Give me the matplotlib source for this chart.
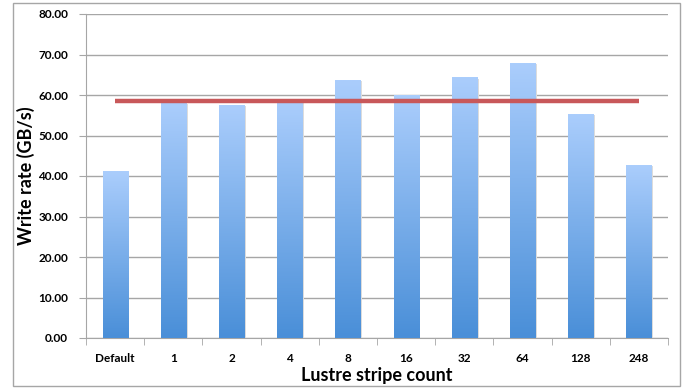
import numpy as np
import matplotlib
matplotlib.use('Agg')
import matplotlib.pyplot as plt
from matplotlib.colors import LinearSegmentedColormap
from matplotlib.patches import Rectangle

plt.rcParams['font.family'] = ['Lato', 'DejaVu Sans']

categorias = ['Default', '1', '2', '4', '8', '16', '32', '64', '128', '248']
taxa = [41.0, 58.0, 57.5, 58.5, 63.7, 60.0, 64.2, 67.9, 55.3, 42.7]
referencia = [58.6] * len(categorias)
yticks = [0, 10, 20, 30, 40, 50, 60, 70, 80]

fig = plt.figure(figsize=(6.85, 3.9), dpi=100)
ax = fig.add_axes([86/685, 52/390, 582/685, 324/390])

# moldura cinza em volta do grafico
fig.patches.append(Rectangle((13/685, 4/390), 667/685, 383/390, transform=fig.transFigure,
                             fill=False, edgecolor='#a6a6a6', linewidth=1.0))

grad = LinearSegmentedColormap.from_list('azul', ['#4a8fd8', '#aacdfc'])
x = np.arange(len(categorias))
w = 0.43
bars = ax.bar(x, taxa, width=w, color='none', zorder=3)
for xi, rect in zip(x, bars):
    h = rect.get_height()
    # sombra leve a direita
    ax.add_patch(Rectangle((xi - w/2 + 0.03, 0), w, h - 0.3, facecolor='#dcdcdc',
                           edgecolor='none', zorder=2))
    img = np.linspace(0, 1, 100).reshape(-1, 1)
    ax.imshow(img, cmap=grad, origin='lower', aspect='auto',
              extent=(xi - w/2, xi + w/2, 0, h), zorder=3)

ax.plot(x, referencia, color='#c8585a', linewidth=3.2, zorder=4, solid_capstyle='butt')

ax.set_xlim(-0.5, len(categorias) - 0.5)
ax.set_ylim(0, 80)
ax.set_yticks(yticks)
ax.set_yticklabels(['%.2f' % v for v in yticks], fontsize=8.5, fontweight='bold')
ax.yaxis.grid(True, color='#a6a6a6', linewidth=1.0, zorder=0)
ax.set_axisbelow(True)

ax.set_xticks(x)
ax.set_xticklabels(categorias, fontsize=8.5, fontweight='bold')
ax.set_xticks(np.arange(-0.5, len(categorias)), minor=True)
ax.tick_params(axis='x', which='major', length=0, pad=11)
ax.tick_params(axis='x', which='minor', length=5, color='#a6a6a6', direction='out')
ax.tick_params(axis='y', length=5, color='#a6a6a6', pad=8)

for s in ['top', 'right']:
    ax.spines[s].set_visible(False)
for s in ['left', 'bottom']:
    ax.spines[s].set_color('#a6a6a6')

ax.set_ylabel('Write rate (GB/s)', fontsize=13, fontweight='bold')
ax.yaxis.set_label_coords(-0.087, 0.5)
ax.set_xlabel('Lustre stripe count', fontsize=13, fontweight='bold', labelpad=2)

plt.savefig('out.png', dpi=100)
